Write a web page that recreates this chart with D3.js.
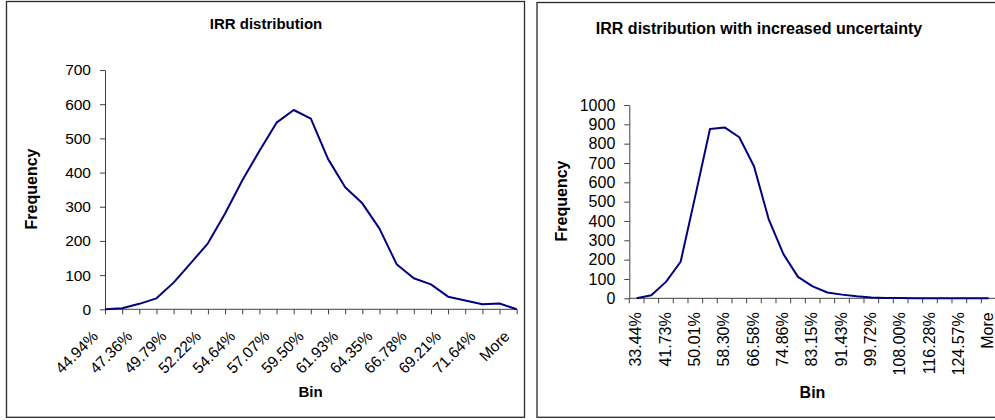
<!DOCTYPE html>
<html>
<head>
<meta charset="utf-8">
<script src="https://cdn.jsdelivr.net/npm/d3@7"></script>
<style>
  body { margin: 0; background: #fff; }
  svg { display: block; font-family: "Liberation Sans", Arial, sans-serif; }
  .frame { fill: #fff; stroke: #2a2a2a; stroke-width: 1.3; }
  .axis path, .axis line { stroke: #404040; stroke-width: 1; }
  .axis text { fill: #000; }
  .series { fill: none; stroke: #000080; stroke-width: 2; stroke-linejoin: round; }
</style>
</head>
<body>
<svg id="chart" width="995" height="420"></svg>
<script>
// left chart: IRR distribution
const leftBins = ['44.94%', '46.15%', '47.36%', '48.58%', '49.79%', '51.00%', '52.22%', '53.43%',
  '54.64%', '55.86%', '57.07%', '58.28%', '59.50%', '60.71%', '61.93%', '63.14%', '64.35%',
  '65.57%', '66.78%', '67.99%', '69.21%', '70.42%', '71.64%', '72.85%', 'More'];
const leftFreq = [0, 3, 16, 32, 78, 135, 193, 280, 377, 463, 546, 583, 558, 440, 357, 310,
  236, 132, 91, 73, 37, 26, 15, 17, 0];
const leftTicks = [0, 100, 200, 300, 400, 500, 600, 700];

// right chart: increased uncertainty
const rightBins = ['33.44%', '37.58%', '41.73%', '45.87%', '50.01%', '54.15%', '58.30%', '62.44%',
  '66.58%', '70.72%', '74.86%', '79.01%', '83.15%', '87.29%', '91.43%', '95.58%', '99.72%',
  '103.86%', '108.00%', '112.14%', '116.28%', '120.43%', '124.57%', '128.71%', 'More'];
const rightFreq = [0, 16, 85, 189, 530, 876, 884, 833, 683, 410, 230, 111, 62, 30, 19, 10,
  4, 2, 1, 0, 0, 0, 0, 0, 0];
const rightTicks = [0, 100, 200, 300, 400, 500, 600, 700, 800, 900, 1000];

const svg = d3.select('#chart');

function drawFrame(box) {
  svg.append('rect').attr('class', 'frame')
    .attr('x', box[0]).attr('y', box[1]).attr('width', box[2]).attr('height', box[3]);
}

function yAxis(g, y, ticks, x0, fs) {
  g.append('g').attr('class', 'axis')
    .attr('transform', `translate(${x0},0)`)
    .call(d3.axisLeft(y).tickValues(ticks).tickFormat(d3.format('d'))
      .tickSize(5).tickSizeOuter(0).tickPadding(9))
    .selectAll('text').style('font-size', fs + 'px');
}

// ---- left ----
drawFrame([6.5, 1.5, 518, 415.8]);
const lg = svg.append('g');
const lx = d3.scalePoint().domain(leftBins).range([105, 516.7]);
const ly = d3.scaleLinear().domain([0, 700]).range([309.3, 70]);

yAxis(lg, ly, leftTicks, 105, 15.5);

const lxa = lg.append('g').attr('class', 'axis')
  .attr('transform', `translate(0,${ly(0)})`)
  .call(d3.axisBottom(lx).tickSize(5).tickSizeOuter(0).tickFormat(''));
lxa.select('.domain').attr('d', `M${lx.range()[0]},0H${lx.range()[1]}`);

lg.append('g').selectAll('text')
  .data(leftBins.filter((d, i) => i % 2 === 0))
  .enter().append('text')
  .attr('transform', d => `translate(${lx(d) - 6},${ly(0) + 28}) rotate(-45)`)
  .attr('text-anchor', 'end')
  .style('font-size', '15.5px')
  .text(d => d);

lg.append('path').datum(leftFreq).attr('class', 'series')
  .attr('d', d3.line().x((d, i) => lx(leftBins[i])).y(d => ly(d)));

lg.append('text').attr('x', 266).attr('y', 29).attr('text-anchor', 'middle')
  .style('font-size', '15px').style('font-weight', 'bold').text('IRR distribution');
lg.append('text').attr('transform', 'translate(37,189) rotate(-90)').attr('text-anchor', 'middle')
  .style('font-size', '16px').style('font-weight', 'bold').text('Frequency');
lg.append('text').attr('x', 310.5).attr('y', 397).attr('text-anchor', 'middle')
  .style('font-size', '15px').style('font-weight', 'bold').text('Bin');

// ---- right ----
drawFrame([537, 2.5, 470, 414.8]);
const rg = svg.append('g');
const rx = d3.scaleBand().domain(rightBins).range([629.3, 996]);
const ry = d3.scaleLinear().domain([0, 1000]).range([298.3, 105]);

yAxis(rg, ry, rightTicks, 629.3, 16);

// category axis: ticks sit between the bins
const ra = rg.append('g').attr('class', 'axis').attr('transform', `translate(0,${ry(0)})`);
ra.append('path').attr('d', `M${rx.range()[0]},0H${rx.range()[1]}`);
ra.selectAll('line')
  .data(rightBins.map(d => rx(d)).concat([rx.range()[1]]))
  .enter().append('line')
  .attr('x1', d => d).attr('x2', d => d).attr('y1', 0).attr('y2', 5);
ra.selectAll('text')
  .data(rightBins.filter((d, i) => i % 2 === 0))
  .enter().append('text')
  .attr('transform', d => `translate(${rx(d) + rx.bandwidth() / 2},14) rotate(-90)`)
  .attr('text-anchor', 'end').attr('dy', '0.3em')
  .style('font-size', '16px')
  .text(d => d);

rg.append('path').datum(rightFreq).attr('class', 'series')
  .attr('d', d3.line().x((d, i) => rx(rightBins[i]) + rx.bandwidth() / 2).y(d => ry(d)));

rg.append('text').attr('x', 759).attr('y', 34).attr('text-anchor', 'middle')
  .style('font-size', '16px').style('font-weight', 'bold').text('IRR distribution with increased uncertainty');
rg.append('text').attr('transform', 'translate(567,201) rotate(-90)').attr('text-anchor', 'middle')
  .style('font-size', '16px').style('font-weight', 'bold').text('Frequency');
rg.append('text').attr('x', 812.5).attr('y', 398).attr('text-anchor', 'middle')
  .style('font-size', '16px').style('font-weight', 'bold').text('Bin');
</script>
</body>
</html>
